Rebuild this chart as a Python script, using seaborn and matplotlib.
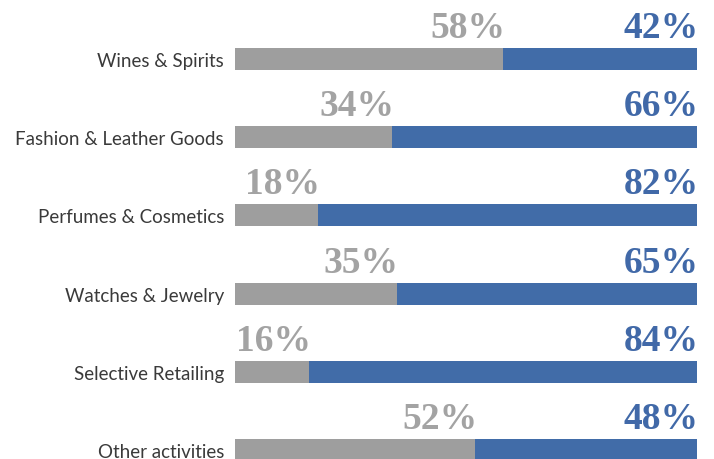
import pandas as pd
import matplotlib.pyplot as plt
import seaborn as sns

categories = ['Wines & Spirits', 'Fashion & Leather Goods', 'Perfumes & Cosmetics',
              'Watches & Jewelry', 'Selective Retailing', 'Other activities']
gray_share = [58, 34, 18, 35, 16, 52]
blue_share = [42, 66, 82, 65, 84, 48]

df = pd.DataFrame({'cat': categories, 'gray': gray_share, 'blue': blue_share})
df['total'] = df['gray'] + df['blue']

gray_col = '#9e9e9e'
blue_col = '#416ca8'
gray_txt = '#a3a3a3'
blue_txt = '#4169a8'

sns.set_style('white')

fig = plt.figure(figsize=(7.14, 4.6), dpi=100)
ax = fig.add_axes([235 / 714, 0, 462 / 714, 1])

sns.barplot(data=df, x='total', y='cat', orient='h', color=blue_col,
            width=0.28, saturation=1, linewidth=0, ax=ax)
sns.barplot(data=df, x='gray', y='cat', orient='h', color=gray_col,
            width=0.28, saturation=1, linewidth=0, ax=ax)

ax.set_xlim(0, 100)
ax.set_ylim(5.115, -0.767)

for i, row in df.iterrows():
    top = i - 0.14
    ax.annotate(f"{row['gray']}%", xy=(row['gray'], top), xytext=(1.5, 8),
                textcoords='offset points', ha='right', va='baseline',
                fontsize=27, fontweight='bold', family='Liberation Serif', color=gray_txt)
    ax.annotate(f"{row['blue']}%", xy=(row['total'], top), xytext=(1, 8),
                textcoords='offset points', ha='right', va='baseline',
                fontsize=27, fontweight='bold', family='Liberation Serif', color=blue_txt)

ax.set_xlabel('')
ax.set_ylabel('')
ax.set_xticks([])
ax.tick_params(axis='y', length=0, pad=8)
for lab in ax.get_yticklabels():
    lab.set_fontfamily('Lato')
    lab.set_fontsize(13.5)
    lab.set_color('#3a3a3a')
sns.despine(ax=ax, left=True, bottom=True)

plt.savefig('out.png', dpi=100)
